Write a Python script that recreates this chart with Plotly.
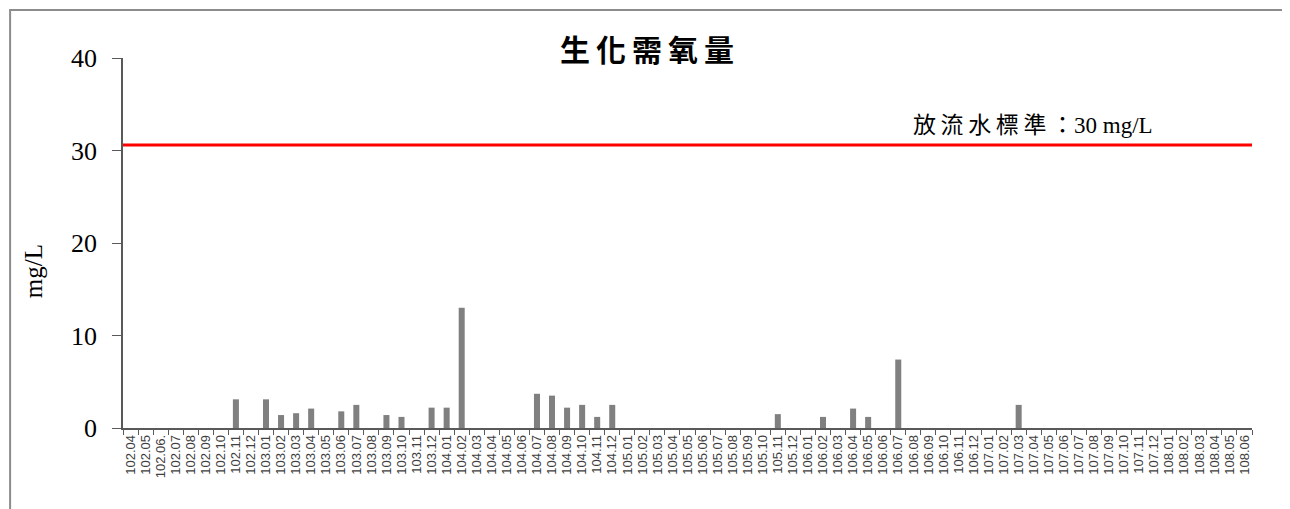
import plotly.graph_objects as go

# months (ROC year.month)
months = (["102.04", "102.05", "102.06.", "102.07", "102.08", "102.09", "102.10", "102.11", "102.12"]
          + [f"{y}.{m:02d}" for y in (103, 104, 105, 106, 107) for m in range(1, 13)]
          + [f"108.{m:02d}" for m in range(1, 7)])

# COD values (mg/L), months without a bar are left empty
cod_readings = {
    "102.11": 3.1, "103.01": 3.1, "103.02": 1.4, "103.03": 1.6, "103.04": 2.1,
    "103.06": 1.8, "103.07": 2.5, "103.09": 1.4, "103.10": 1.2, "103.12": 2.2,
    "104.01": 2.2, "104.02": 13.0, "104.07": 3.7, "104.08": 3.5, "104.09": 2.2,
    "104.10": 2.5, "104.11": 1.2, "104.12": 2.5, "105.11": 1.5, "106.02": 1.2,
    "106.04": 2.1, "106.05": 1.2, "106.07": 7.4, "107.03": 2.5,
}
cod = [cod_readings.get(m) for m in months]

standard_line = 30.6
standard_label = "放\u2009流\u2009水\u2009標\u2009準\u2009：30 mg/L"
title_text = "\u2009".join("生化需氧量")

serif = "Liberation Serif, Times New Roman, Noto Sans CJK TC"

fig = go.Figure()
fig.add_trace(go.Bar(x=months, y=cod, marker_color="#808080", marker_line_width=0))

fig.add_shape(type="line", xref="paper", yref="y", x0=0, x1=1, y0=standard_line, y1=standard_line,
              line=dict(color="#ff0000", width=3))

# outer chart border (kept inside the svg, which starts 8px into the page)
fig.add_shape(type="rect", xref="paper", yref="paper", x0=-0.1, x1=1.031, y0=-0.25, y1=1.13,
              line=dict(color="#8c8c8c", width=2), fillcolor="rgba(0,0,0,0)")

fig.add_annotation(text=standard_label, xref="paper", yref="y", x=0.914, y=32.7,
                   xanchor="right", yanchor="middle", showarrow=False,
                   font=dict(family=serif, size=23, color="#000000"))

fig.add_annotation(text="mg/L", xref="paper", yref="paper", x=-0.0797, y=0.424,
                   textangle=-90, showarrow=False, xanchor="center", yanchor="middle",
                   font=dict(family=serif, size=25, color="#000000"))

# page body has an 8px margin, so the figure is drawn slightly smaller and shifted
fig.update_layout(
    width=1282, height=501,
    margin=dict(l=115, r=38, t=50, b=81),
    paper_bgcolor="white", plot_bgcolor="white",
    showlegend=False,
    bargap=0.6,
    title=dict(text=f"<b>{title_text}</b>", x=(647 - 8) / 1282, xanchor="center",
               y=1 - (50 - 8) / 501, yanchor="middle",
               font=dict(family="Noto Sans CJK TC", size=30, color="#000000")),
)

fig.update_xaxes(
    type="category", range=[-0.5, len(months) - 0.5],
    tickmode="array", tickvals=months, ticktext=months,
    showline=True, linecolor="#595959", linewidth=1.5,
    ticks="outside", tickson="boundaries", ticklen=5, tickcolor="#595959",
    tickangle=-90, tickfont=dict(family="Liberation Sans, Arial", size=13, color="#404040"),
    showgrid=False, automargin=False,
)
fig.update_yaxes(
    range=[0, 40], tickvals=[0, 10, 20, 30, 40],
    showline=True, linecolor="#595959", linewidth=1.5,
    ticks="outside", ticklen=9, tickcolor="#595959", ticklabelstandoff=10,
    tickfont=dict(family=serif, size=26, color="#000000"),
    showgrid=False, zeroline=False, automargin=False,
)

fig.write_html("out.html")
